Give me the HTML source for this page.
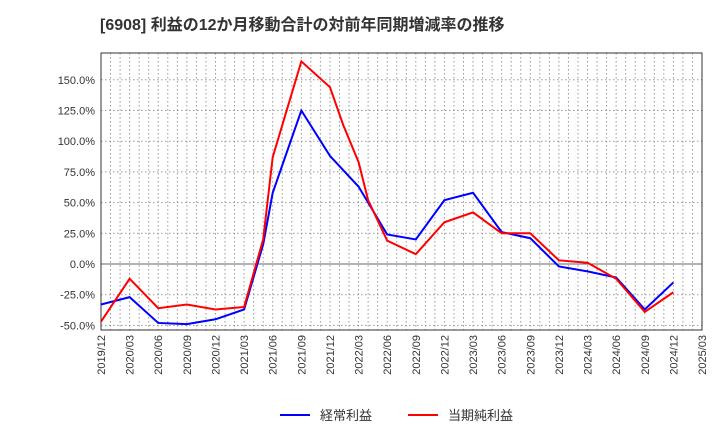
<!DOCTYPE html>
<html><head><meta charset="utf-8"><style>
body{margin:0;background:#fff;font-family:"Liberation Sans","Noto Sans CJK JP",sans-serif;}
</style></head><body>
<svg width="720" height="440" xmlns="http://www.w3.org/2000/svg">
<text x="100" y="30" font-size="16" font-weight="bold" fill="#333" font-family="Liberation Sans, Noto Sans CJK JP, sans-serif">[6908]  利益の12か月移動合計の対前年同期増減率の推移</text>
<g id="grid"></g><g id="axes"></g><g id="series"></g>
<g>
<line x1="280" y1="415" x2="310" y2="415" stroke="#0000ff" stroke-width="2"/>
<text x="320" y="420" font-size="13" fill="#333">経常利益</text>
<line x1="408" y1="415" x2="438" y2="415" stroke="#ff0000" stroke-width="2"/>
<text x="448" y="420" font-size="13" fill="#333">当期純利益</text>
</g>
</svg>
<script>
const xLabels=["2019/12","2020/03","2020/06","2020/09","2020/12","2021/03","2021/06","2021/09","2021/12","2022/03","2022/06","2022/09","2022/12","2023/03","2023/06","2023/09","2023/12","2024/03","2024/06","2024/09","2024/12","2025/03"];
const yTicks=[-50,-25,0,25,50,75,100,125,150];
const months=[0,3,6,9,12,15,17,18,21,24,27,30,33,36,39,42,45,48,51,54,57,60];
const blueVals=[-33,-27,-48,-49,-45,-37,16,58,125,88,63,24,20,52,58,26,21,-2,-6,-11,-37,-15];
const redMonths=[0,3,6,9,12,15,17,18,21,24,25.4,27,28,30,33,36,39,42,45,48,51,54,57,60];
const redVals=[-47,-12,-36,-33,-37,-35,20,87,165,144,113,83,52,19,8,34,42,25,25,3,1,-12,-39,-23];
const L=101,R=702,T=53,B=330,ns="http://www.w3.org/2000/svg";
const X=m=>L+m*(R-L)/63;
const Y=v=>264-v*30.7/25;
function mk(t,a,p){const e=document.createElementNS(ns,t);for(const k in a)e.setAttribute(k,a[k]);p.appendChild(e);return e;}
const g=document.getElementById('grid'),ax=document.getElementById('axes'),s=document.getElementById('series');
for(let m=1;m<63;m++){const l=mk('line',{x1:X(m),x2:X(m),y1:T,y2:B,stroke:'#999','stroke-dasharray':'1.5,2.5','stroke-width':1},g);

}
yTicks.forEach(v=>{const l=mk('line',{x1:L,x2:R,y1:Y(v),y2:Y(v),stroke:v===0?'#666':'#999','stroke-dasharray':v===0?'':'1.5,2.5','stroke-width':1},g);


const t=mk('text',{x:L-6,y:Y(v)+4,'text-anchor':'end','font-size':11,fill:'#333'},ax);t.textContent=v.toFixed(1)+'%';

});
xLabels.forEach((lb,i)=>{const x=X(i*3);const t=mk('text',{x:0,y:0,transform:`translate(${x+4},${B+5}) rotate(-90)`,'text-anchor':'end','font-size':11,fill:'#333'},ax);t.textContent=lb;

});
const fr=mk('rect',{x:L,y:T,width:R-L,height:B-T,fill:'none',stroke:'#333','stroke-width':1},ax);


[[months,blueVals,'#0000ff','series-operating-profit'],[redMonths,redVals,'#ff0000','series-net-profit']].forEach(([ms,vals,c,n])=>{
const p=mk('polyline',{points:vals.map((v,i)=>X(ms[i])+','+Y(v)).join(' '),fill:'none',stroke:c,'stroke-width':2},s);

});
</script>
</body></html>
